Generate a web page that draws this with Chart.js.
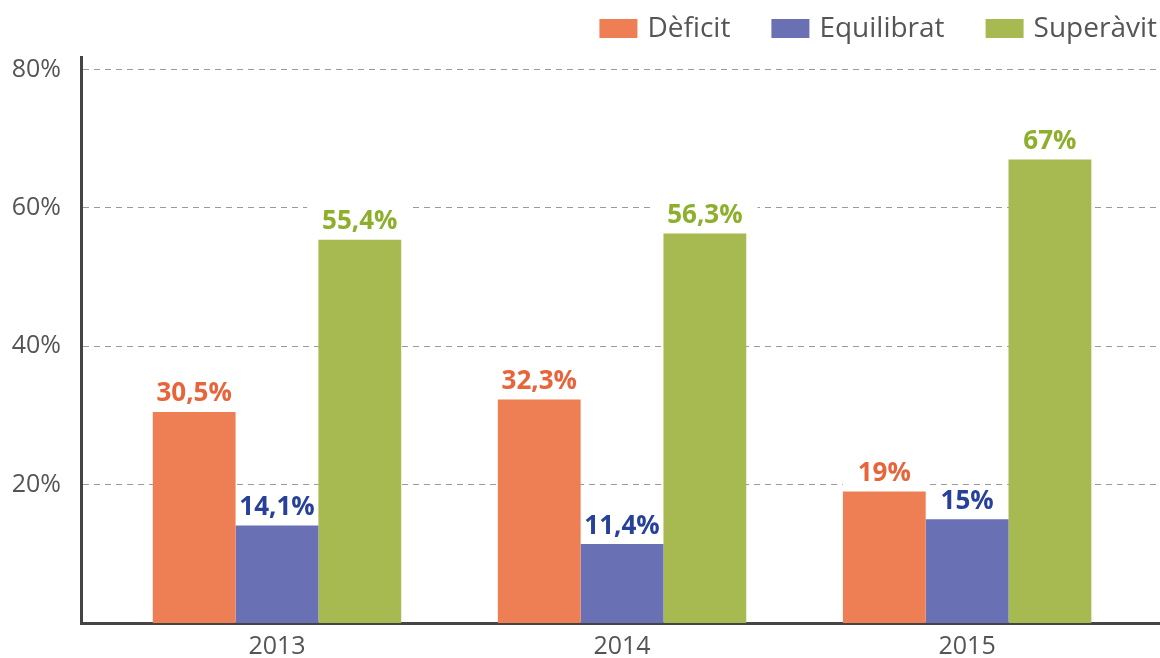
<!DOCTYPE html>
<html>
<head>
<meta charset="utf-8">
<script src="https://cdn.jsdelivr.net/npm/chart.js@4/dist/chart.umd.min.js"></script>
<style>
  html, body { margin: 0; padding: 0; background: #ffffff; }
  #wrap { width: 1160px; height: 658px; }
</style>
</head>
<body>
<div id="wrap"><canvas id="chart" width="1160" height="658"></canvas></div>
<script>
// Share of results per year (%)
const years = [2013, 2014, 2015];
const deficit = [30.5, 32.3, 19];
const equilibrat = [14.1, 11.4, 15];
const superavit = [55.4, 56.3, 67];
const yTickValues = [20, 40, 60, 80];
const seriesNames = ['Dèficit', 'Equilibrat', 'Superàvit'];

const barColors = ['#ee7f55', '#6a70b4', '#a7ba51'];
const labelColors = ['#e8643a', '#27419a', '#8daf2b'];
const FONT = '"Open Sans", "Noto Sans", sans-serif';

const toPoints = arr => arr.map((v, i) => ({ x: years[i], y: v }));
const fmt = v => String(v).replace('.', ',') + '%';

const LABEL_FONT = 'bold 26px ' + FONT;
const LABEL_GAP = 10.6;

// White plate behind each value label (hides the dashed grid), then the label itself
const valueLabels = {
  id: 'valueLabels',
  beforeDatasetsDraw(chart) {
    const ctx = chart.ctx;
    ctx.save();
    ctx.font = LABEL_FONT;
    ctx.fillStyle = '#ffffff';
    chart.data.datasets.forEach((ds, di) => {
      chart.getDatasetMeta(di).data.forEach((bar, i) => {
        const w = ctx.measureText(fmt(ds.data[i].y)).width;
        const base = bar.y - LABEL_GAP;
        ctx.fillRect(bar.x - w / 2 - 15, base - 23, w + 30, bar.y - (base - 23));
      });
    });
    ctx.restore();
  },
  afterDatasetsDraw(chart) {
    const ctx = chart.ctx;
    ctx.save();
    ctx.font = LABEL_FONT;
    ctx.textAlign = 'center';
    ctx.textBaseline = 'alphabetic';
    chart.data.datasets.forEach((ds, di) => {
      ctx.fillStyle = labelColors[di];
      chart.getDatasetMeta(di).data.forEach((bar, i) => {
        ctx.fillText(fmt(ds.data[i].y), bar.x, bar.y - LABEL_GAP);
      });
    });
    ctx.restore();
  }
};

// Right-aligned legend row above the plot
const legendRow = {
  id: 'legendRow',
  afterDraw(chart) {
    const ctx = chart.ctx;
    const boxW = 38, boxH = 19, boxTop = 19, textGap = 10, itemGap = 41, baseline = 37;
    ctx.save();
    ctx.font = '28px ' + FONT;
    ctx.textBaseline = 'alphabetic';
    ctx.textAlign = 'left';
    let right = chart.width - 3;
    for (let k = chart.data.datasets.length - 1; k >= 0; k--) {
      const ds = chart.data.datasets[k];
      const w = ctx.measureText(ds.label).width;
      const textX = right - w;
      ctx.fillStyle = '#555555';
      ctx.fillText(ds.label, textX, baseline);
      const boxX = textX - textGap - boxW;
      ctx.fillStyle = ds.backgroundColor;
      ctx.fillRect(boxX, boxTop, boxW, boxH);
      right = boxX - itemGap;
    }
    ctx.restore();
  }
};

const seriesValues = [deficit, equilibrat, superavit];

new Chart(document.getElementById('chart'), {
  type: 'bar',
  data: {
    datasets: seriesValues.map((vals, k) => ({
      label: seriesNames[k],
      data: toPoints(vals),
      backgroundColor: barColors[k],
      borderWidth: 0,
      categoryPercentage: 0.72,
      barPercentage: 1.0
    }))
  },
  options: {
    responsive: false,
    animation: false,
    devicePixelRatio: 1,
    layout: { padding: { top: 57, right: 0, left: 0, bottom: 0 } },
    plugins: {
      legend: { display: false },
      tooltip: { enabled: false }
    },
    scales: {
      x: {
        type: 'linear',
        offset: false,
        min: 2012.432,
        max: 2015.559,
        z: 1,
        afterBuildTicks(scale) {
          scale.ticks = years.map(v => ({ value: v }));
        },
        afterFit(scale) {
          scale.height = 35;
          scale.paddingLeft = 0;
          scale.paddingRight = 0;
        },
        grid: { display: false, drawTicks: false },
        border: { display: true, color: '#444444', width: 3 },
        ticks: {
          padding: 9,
          color: '#555555',
          font: { family: FONT, size: 25 },
          callback: v => String(v)
        }
      },
      y: {
        type: 'linear',
        min: 0,
        max: 81.8,
        afterBuildTicks(scale) {
          scale.ticks = yTickValues.map(v => ({ value: v }));
        },
        afterFit(scale) {
          scale.width = 81;
        },
        grid: { color: '#9a9a9a', lineWidth: 1, drawTicks: false },
        border: { display: true, color: '#444444', width: 3, dash: [6, 5] },
        ticks: {
          padding: 20,
          color: '#555555',
          font: { family: FONT, size: 25 },
          callback: v => v + '%'
        }
      }
    }
  },
  plugins: [valueLabels, legendRow]
});
</script>
</body>
</html>
